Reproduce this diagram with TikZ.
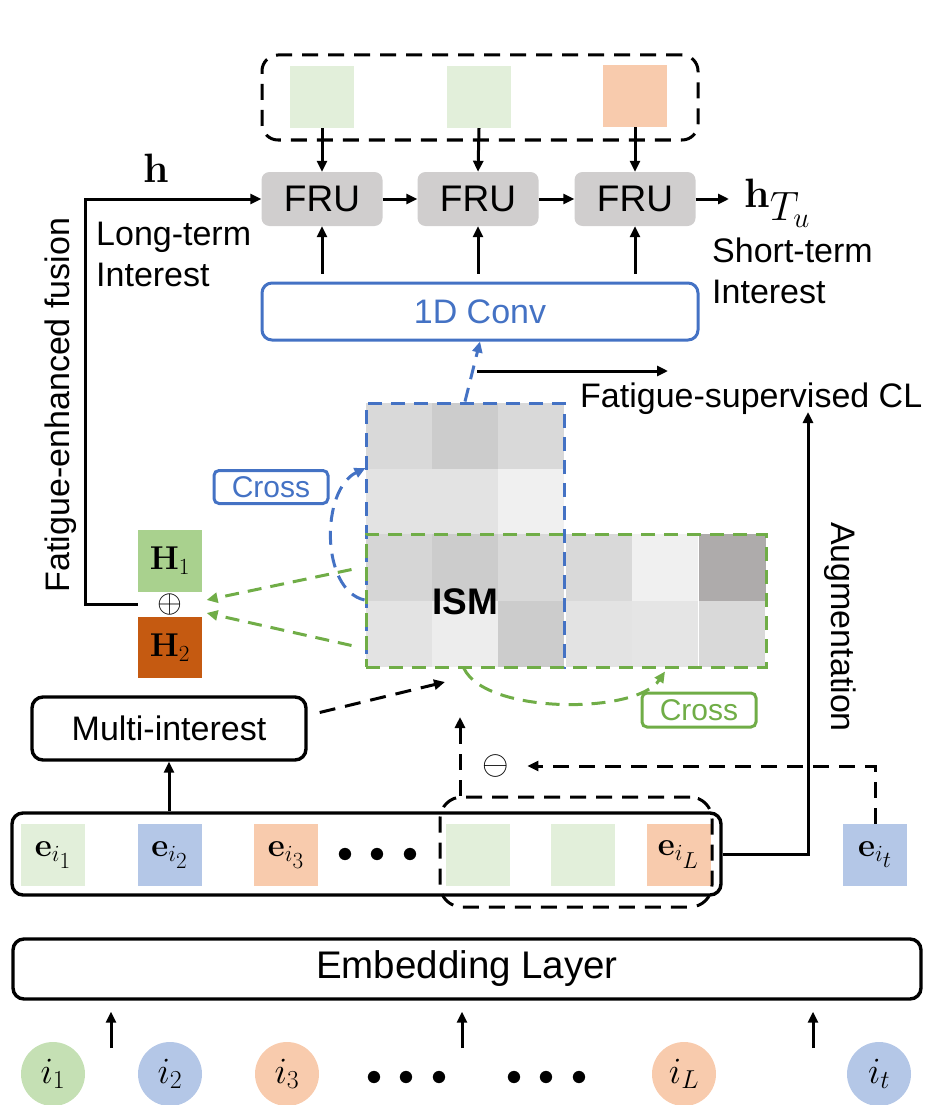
\RequirePackage{fix-cm}
\documentclass[tikz,border=0pt]{standalone}
\usepackage[no-math]{fontspec}
\newfontfamily\arial{Liberation Sans}
\usetikzlibrary{arrows.meta,calc}

\definecolor{egreen}{HTML}{E2EFDA}
\definecolor{eblue}{HTML}{B4C7E7}
\definecolor{eorange}{HTML}{F8CBAD}
\definecolor{cgreen}{HTML}{C5E0B4}
\definecolor{frugray}{HTML}{D0CECE}
\definecolor{hone}{HTML}{A9D18E}
\definecolor{htwo}{HTML}{C55A11}
\definecolor{accblue}{HTML}{4472C4}
\definecolor{accgreen}{HTML}{70AD47}
\definecolor{hdark}{HTML}{AEABAB}

% embedding vector e_{i_k} with a larger second-level subscript
\newcommand\emb[1]{$\mathbf{e}_{i_{\scriptstyle #1}}$}

\begin{document}
\begin{tikzpicture}[x=1pt,y=-1pt,
  tip/.style={-{Triangle[length=11pt,width=10pt]}},
  conn/.style={line width=3pt,tip},
  kdash/.style={line width=3pt,dash pattern=on 16pt off 10pt},
  bdash/.style={draw=accblue,line width=3pt,dash pattern=on 14pt off 9pt},
  gdash/.style={draw=accgreen,line width=3pt,dash pattern=on 14pt off 9pt},
  tile/.style={minimum width=64pt,minimum height=62pt,inner sep=0pt},
  fru/.style={fill=frugray,rounded corners=8pt,minimum width=121pt,minimum height=54pt,
    inner sep=0pt,font=\arial\fontsize{37}{44}\selectfont},
  sbox/.style={draw,line width=3.4pt,rounded corners=11pt,inner sep=0pt},
  lbl/.style={inner sep=0pt,font=\arial\fontsize{34}{41}\selectfont},
  crossbox/.style={line width=3pt,rounded corners=5pt,minimum width=114pt,minimum height=33pt,
    inner sep=0pt,font=\arial\fontsize{30}{36}\selectfont},
  mth/.style={inner sep=0pt,font=\fontsize{33}{40}\selectfont},
  item/.style={circle,minimum size=64pt,inner sep=0pt,font=\fontsize{37}{44}\selectfont},
  dots/.style={inner sep=0pt,font=\fontsize{32}{38}\selectfont}
]
\useasboundingbox (0,0) rectangle (936,1105);

% ---------- short-term branch: recent items and FRU chain ----------
\node[draw,kdash,rounded corners=16pt,minimum width=436pt,minimum height=85pt,inner sep=0pt]
  (topgrp) at (480,97.5) {};
\node[tile,fill=egreen] (t1) at (322,97) {};
\node[tile,fill=egreen] (t2) at (479,97) {};
\node[tile,fill=eorange] (t3) at (635,96) {};

\node[fru] (f1) at (322,199) {FRU};
\node[fru] (f2) at (478,199) {FRU};
\node[fru] (f3) at (635,199) {FRU};

\node[draw=accblue,line width=3pt,rounded corners=10pt,minimum width=436pt,minimum height=57pt,
  inner sep=0pt,text=accblue,font=\arial\fontsize{34}{41}\selectfont] (conv) at (480,311.5) {1D Conv};

\draw[conn] (t1.south) -- (f1.north);
\draw[conn] (t2.south) -- (f2.north);
\draw[conn] (t3.south) -- (f3.north);
\draw[conn] (f1) -- (f2);
\draw[conn] (f2) -- (f3);
\foreach \f in {f1,f2,f3}
  \draw[conn] ($(conv.north -| \f)+(0,-8)$) -- (\f.south);

\node[inner sep=0pt,anchor=base west,font=\fontsize{41}{48}\selectfont] (hT) at (744,207) {$\mathbf{h}_{\textstyle T_u}$};
\draw[conn,shorten >=15pt] (f3.east) -- (f3.east -| hT.west);

\node[inner sep=0pt,anchor=base west,font=\fontsize{41}{48}\selectfont] (hL) at (143,182) {$\mathbf{h}$};
\node[lbl,align=left,anchor=north west] (longi) at (96,222) {Long-term\\Interest};
\node[lbl,align=left,anchor=north west] (shorti) at (712,238) {Short-term\\Interest};

% ---------- fusion of the multi-interest representations ----------
\node[tile,fill=hone,mth] (H1) at (170,561) {$\mathbf{H}_1$};
\node[tile,fill=htwo,mth,minimum height=61pt] (H2) at (170,647.5) {$\mathbf{H}_2$};
\node[inner sep=0pt,font=\fontsize{32}{36}\selectfont] (oplus) at (170,604) {$\oplus$};
\draw[conn] (H1.west |- oplus) -- ++(-52,0) |- (f1.west);
\node[lbl,rotate=90,anchor=base] (fusion) at (69,405) {Fatigue-enhanced fusion};

% ---------- item similarity matrix ----------
\foreach \x/\y/\p in {366/403/15, 432/403/20, 498/403/15,
                      366/468.5/11, 432/468.5/11, 498/468.5/6,
                      366/534/16, 432/534/20, 498/534/15,
                      366/600.5/11, 432/600.5/7, 498/600.5/20,
                      566/534/15, 632/534/6,
                      566/600.5/11, 632/600.5/10, 699/600.5/15}
  \fill[black!\p] (\x,\y) rectangle ++(66,66.5);
\fill[hdark] (699,534) rectangle ++(67,66.5);
\node[inner sep=0pt,font=\arial\bfseries\fontsize{37}{44}\selectfont] (ism) at (465,602) {ISM};

\node[bdash,minimum width=198pt,minimum height=264pt,inner sep=0pt] (bluebox) at (465,535) {};
\node[gdash,minimum width=400pt,minimum height=133pt,inner sep=0pt] (greenbox) at (566,600.5) {};

\draw[bdash,tip] (bluebox.north) -- (conv.south);
\draw[bdash,tip]
  ($(bluebox.west)+(0,65)$) .. controls ($(bluebox.west)+(-44,55)$) and ($(bluebox.west)+(-44,-45)$)
  .. ($(bluebox.west)+(1,-67)$);
\draw[gdash,tip]
  ($(greenbox.south)+(-102,0)$) .. controls ($(greenbox.south)+(-80,46)$) and ($(greenbox.south)+(70,46)$)
  .. ($(greenbox.south)+(99,3)$);
\node[crossbox,draw=accblue,text=accblue] (crossb) at (271,487) {Cross};
\node[crossbox,draw=accgreen,text=accgreen,minimum height=34pt] (crossg) at (699,710) {Cross};

\draw[gdash,tip] ($(greenbox.west)+(-13,-31)$) -- ($(oplus.east)+(24,-4)$);
\draw[gdash,tip] ($(greenbox.west)+(-13,45)$) -- ($(oplus.east)+(24,9)$);

% ---------- contrastive learning ----------
\coordinate (clA) at (477,371);
\coordinate (clB) at (668,371);
\draw[conn] (clA) -- (clB);
\node[lbl,anchor=base west] (cl) at (580,407) {Fatigue-supervised CL};

% ---------- multi-interest extractor ----------
\node[sbox,minimum width=274pt,minimum height=63pt,font=\arial\fontsize{34}{41}\selectfont]
  (multi) at (169,728.5) {Multi-interest};
\coordinate (ismin) at (445,682);
\draw[kdash,tip] ($(multi.east)+(12,-16)$) -- (ismin);

% ---------- embedded sequence ----------
\node[sbox,minimum width=709pt,minimum height=82pt] (erow) at (366.5,854) {};
\node[tile,fill=egreen,mth] (e1) at (53,855) {\emb{1}};
\node[tile,fill=eblue,mth] (e2) at (169.5,855) {\emb{2}};
\node[tile,fill=eorange,mth] (e3) at (286,855) {\emb{3}};
\node[dots] (edots) at (378,855) {$\bullet\hspace{9pt}\bullet\hspace{9pt}\bullet$};
\node[tile,fill=egreen] (e4) at (477.5,855) {};
\node[tile,fill=egreen] (e5) at (582.5,855) {};
\node[tile,fill=eorange,mth] (eL) at (678.5,855) {\emb{L}};
\node[tile,fill=eblue,mth] (et) at (875,855) {\emb{t}};
\node[draw,kdash,rounded corners=22pt,minimum width=272pt,minimum height=110pt,inner sep=0pt]
  (dbox) at (576,852) {};

\draw[conn] (multi.south |- erow.north) -- (multi.south);

\node[inner sep=0pt,font=\fontsize{34}{40}\selectfont] (minus) at (496,766) {$\ominus$};
\draw[kdash,tip,shorten >=18pt] (et.north) |- (minus.east);
\coordinate (upt) at (460,717);
\draw[kdash,tip] (dbox.north -| upt) -- (upt);

\coordinate (augtop) at (808,412);
\draw[conn] (erow.east) -| (augtop);
\node[lbl,rotate=-90,anchor=base] (aug) at (831,627) {Augmentation};

% ---------- embedding layer and raw items ----------
\node[sbox,minimum width=908pt,minimum height=60pt,font=\arial\fontsize{38.5}{46}\selectfont]
  (emb) at (467,969) {Embedding Layer};

\node[item,fill=cgreen] (c1) at (53,1074) {$i_{\scriptstyle 1}$};
\node[item,fill=eblue] (c2) at (170,1074) {$i_{\scriptstyle 2}$};
\node[item,fill=eorange] (c3) at (287,1074) {$i_{\scriptstyle 3}$};
\node[dots] (cdotsA) at (407,1078) {$\bullet\hspace{9pt}\bullet\hspace{9pt}\bullet$};
\node[dots] (cdotsB) at (547,1078) {$\bullet\hspace{9pt}\bullet\hspace{9pt}\bullet$};
\node[item,fill=eorange] (cL) at (684,1074) {$i_{\scriptstyle L}$};
\node[item,fill=eblue] (ct) at (879,1074) {$i_{\scriptstyle t}$};

\foreach \x [count=\k] in {111,462,813} {
  \coordinate (in\k) at (\x,1048);
  \draw[conn] (in\k) -- ($(emb.south -| in\k)+(0,11)$);
}
\end{tikzpicture}
\end{document}
